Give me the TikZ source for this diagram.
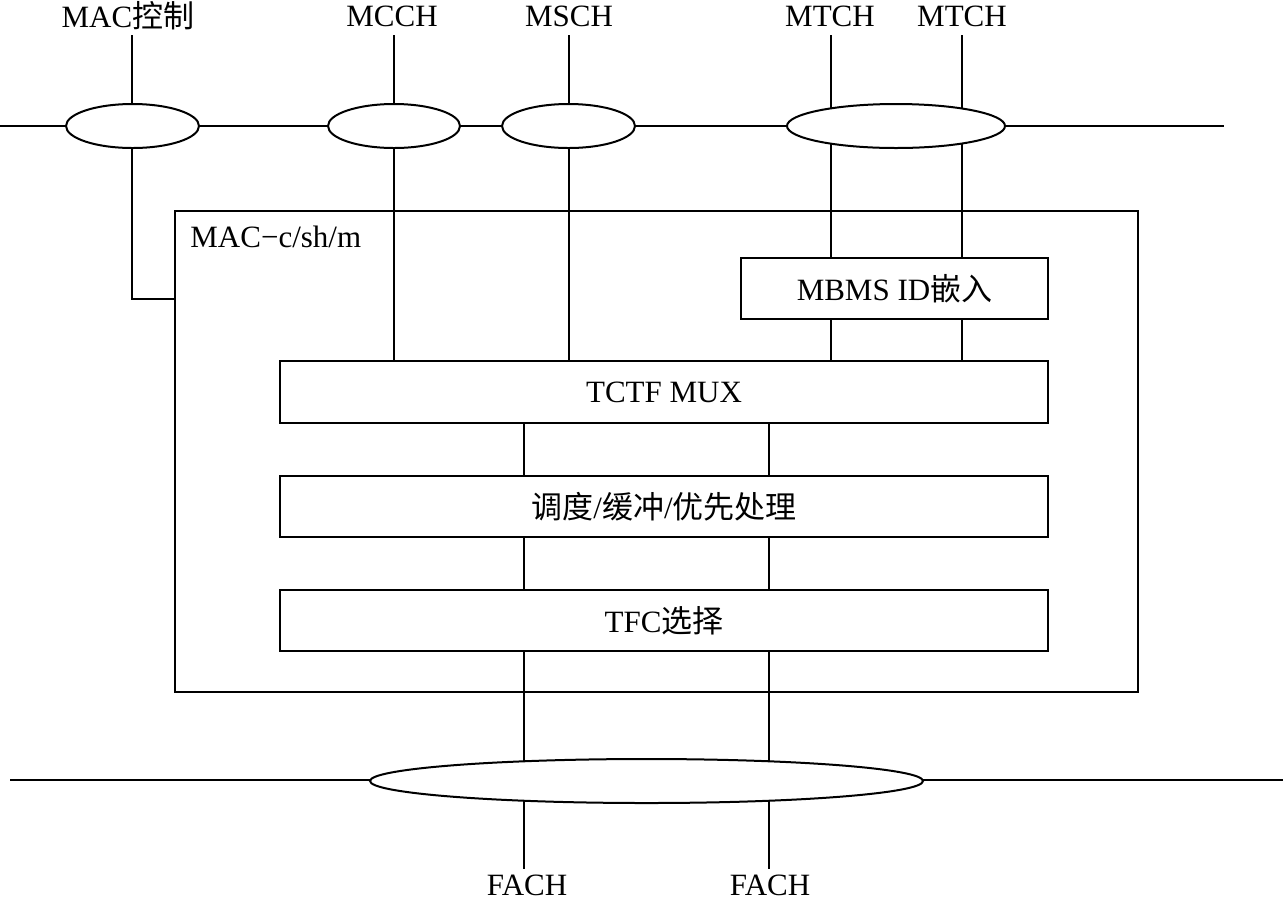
\documentclass[tikz,border=0pt]{standalone}
\usepackage{fontspec}
\setmainfont{Liberation Serif}
\newfontfamily\cjk{Noto Sans CJK SC}
\usetikzlibrary{shapes.geometric}
\begin{document}
\begin{tikzpicture}[x=0.5pt,y=-0.5pt,
  font=\fontsize{15.5pt}{18pt}\selectfont,
  conn/.style={line width=0.8pt},
  bus/.style={line width=1pt},
  box/.style={draw,line width=1pt,fill=white,inner sep=0pt},
  oval/.style={draw,ellipse,line width=1pt,fill=white,inner sep=0pt,minimum height=22pt},
  lbl/.style={inner sep=0pt}]
\useasboundingbox (0,0) rectangle (1283,901);

% labels
\node[lbl] (lmac) at (128,16) {MAC{\cjk 控制}};
\node[lbl] (lmcch) at (392,16) {MCCH};
\node[lbl] (lmsch) at (569,16) {MSCH};
\node[lbl] (lmt1) at (830,16) {MTCH};
\node[lbl] (lmt2) at (962,16) {MTCH};
\node[lbl] (lf1) at (527,885) {FACH};
\node[lbl] (lf2) at (770,885) {FACH};

% anchor coordinates
\coordinate (t1) at (132,35);
\coordinate (t2) at (394,35);
\coordinate (t3) at (569,35);
\coordinate (t4) at (831,35);
\coordinate (t5) at (962,35);
\coordinate (b1) at (524,869);
\coordinate (b2) at (769,869);
\coordinate (tl) at (0,126);
\coordinate (tr) at (1224,126);
\coordinate (bl) at (10,780);
\coordinate (br) at (1283,780);
\coordinate (macin) at (175,299);

% boxes
\node[draw,line width=1pt,inner sep=0pt,minimum width=481.5pt,minimum height=240.5pt] (mac) at (656.5,451.5) {};
\node[anchor=west,lbl] (macl) at (190,237) {MAC−c/sh/m};
\node[box,minimum width=153.5pt,minimum height=30.5pt] (mbms) at (894.5,288.5) {MBMS ID{\cjk 嵌入}};
\node[box,minimum width=384pt,minimum height=31pt] (tctf) at (664,392) {TCTF MUX};
\node[box,minimum width=384pt,minimum height=30.5pt] (sch) at (664,506.5) {{\cjk 调度}/{\cjk 缓冲}/{\cjk 优先处理}};
\node[box,minimum width=384pt,minimum height=30.5pt] (tfc) at (664,620.5) {TFC{\cjk 选择}};

% connectors
\draw[bus] (tl) -- (tr);
\draw[bus] (bl) -- (br);
\draw[conn] (t1) |- (macin);
\draw[conn] (t2) -- (tctf.north -| t2);
\draw[conn] (t3) -- (tctf.north -| t3);
\draw[conn] (t4) -- (mbms.north -| t4);
\draw[conn] (t5) -- (mbms.north -| t5);
\draw[conn] (mbms.south -| t4) -- (tctf.north -| t4);
\draw[conn] (mbms.south -| t5) -- (tctf.north -| t5);
\draw[conn] (tctf.south -| b1) -- (sch.north -| b1);
\draw[conn] (tctf.south -| b2) -- (sch.north -| b2);
\draw[conn] (sch.south -| b1) -- (tfc.north -| b1);
\draw[conn] (sch.south -| b2) -- (tfc.north -| b2);
\draw[conn] (tfc.south -| b1) -- (b1);
\draw[conn] (tfc.south -| b2) -- (b2);

% ellipses on top
\node[oval,minimum width=66.5pt] (e1) at (132.5,126) {};
\node[oval,minimum width=66pt] (e2) at (394,126) {};
\node[oval,minimum width=66.5pt] (e3) at (568.5,126) {};
\node[oval,minimum width=109pt] (e4) at (896,126) {};
\node[oval,minimum width=276.5pt] (e5) at (646.5,781) {};
\end{tikzpicture}
\end{document}
